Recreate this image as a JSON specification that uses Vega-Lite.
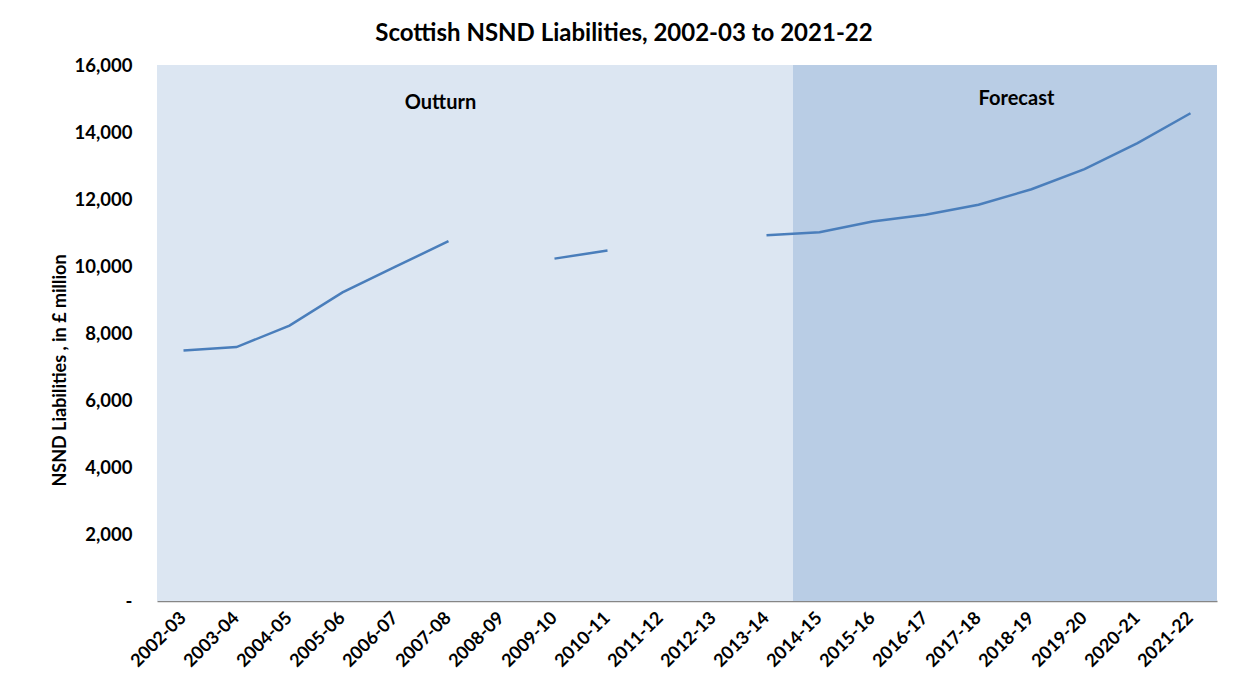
{
  "$schema": "https://vega.github.io/schema/vega-lite/v6.json",
  "autosize": {"type": "none"},
  "width": 1060,
  "height": 536,
  "padding": {"left": 157, "top": 65, "right": 38, "bottom": 76},
  "background": "white",
  "config": {
    "view": {"stroke": null},
    "font": "Lato"
  },
  "title": {
    "text": "Scottish NSND Liabilities, 2002-03 to 2021-22",
    "font": "Lato",
    "fontSize": 24,
    "fontWeight": "bold",
    "color": "#000000",
    "anchor": "middle",
    "dx": -63,
    "offset": 10
  },
  "datasets": {
    "series": [
      {"year": "2002-03", "liabilities": 7480, "phase": "Outturn"},
      {"year": "2003-04", "liabilities": 7580, "phase": "Outturn"},
      {"year": "2004-05", "liabilities": 8220, "phase": "Outturn"},
      {"year": "2005-06", "liabilities": 9210, "phase": "Outturn"},
      {"year": "2006-07", "liabilities": 9980, "phase": "Outturn"},
      {"year": "2007-08", "liabilities": 10740, "phase": "Outturn"},
      {"year": "2008-09", "liabilities": null, "phase": "Outturn"},
      {"year": "2009-10", "liabilities": 10220, "phase": "Outturn"},
      {"year": "2010-11", "liabilities": 10460, "phase": "Outturn"},
      {"year": "2011-12", "liabilities": null, "phase": "Outturn"},
      {"year": "2012-13", "liabilities": null, "phase": "Outturn"},
      {"year": "2013-14", "liabilities": 10920, "phase": "Outturn"},
      {"year": "2014-15", "liabilities": 11010, "phase": "Forecast"},
      {"year": "2015-16", "liabilities": 11330, "phase": "Forecast"},
      {"year": "2016-17", "liabilities": 11530, "phase": "Forecast"},
      {"year": "2017-18", "liabilities": 11830, "phase": "Forecast"},
      {"year": "2018-19", "liabilities": 12290, "phase": "Forecast"},
      {"year": "2019-20", "liabilities": 12890, "phase": "Forecast"},
      {"year": "2020-21", "liabilities": 13670, "phase": "Forecast"},
      {"year": "2021-22", "liabilities": 14560, "phase": "Forecast"}
    ],
    "labels": [
      {"year": "2007-08", "value": 14880, "label": "Outturn"},
      {"year": "2018-19", "value": 15000, "label": "Forecast"}
    ]
  },
  "data": {"name": "series"},
  "encoding": {
    "x": {
      "field": "year",
      "type": "ordinal",
      "sort": null,
      "scale": {"paddingInner": 0, "paddingOuter": 0, "round": false},
      "axis": {
        "title": null,
        "labelAngle": -45,
        "labelAlign": "right",
        "labelBaseline": "middle",
        "labelFont": "Lato",
        "labelFontSize": 18,
        "labelFontWeight": "bold",
        "labelColor": "#000000",
        "labelPadding": 14,
        "ticks": false,
        "domainColor": "#868686",
        "domainWidth": 1.5,
        "grid": false
      }
    }
  },
  "layer": [
    {
      "mark": {"type": "bar", "stroke": null, "width": {"band": 1}},
      "encoding": {
        "y": {
          "datum": 16000,
          "type": "quantitative",
          "scale": {"domain": [0, 16000], "nice": false},
          "axis": {
            "title": "NSND Liabilities , in £ million",
            "titleFont": "Lato",
            "titleFontSize": 18,
            "titleFontWeight": "bold",
            "titleColor": "#000000",
            "titleX": -97,
            "titleY": 305,
            "titleAlign": "center",
            "titleBaseline": "middle",
            "titleAngle": -90,
            "values": [0, 2000, 4000, 6000, 8000, 10000, 12000, 14000, 16000],
            "labelExpr": "datum.value == 0 ? '-' : format(datum.value, ',')",
            "labelFont": "Lato",
            "labelFontSize": 18.5,
            "labelFontWeight": "bold",
            "labelColor": "#000000",
            "labelPadding": 25,
            "ticks": false,
            "tickSize": 0,
            "domain": false,
            "grid": false
          }
        },
        "color": {
          "field": "phase",
          "type": "nominal",
          "scale": {"domain": ["Outturn", "Forecast"], "range": ["#DCE6F2", "#B9CDE5"]},
          "legend": null
        }
      }
    },
    {
      "mark": {"type": "line", "color": "#4A7EBB", "strokeWidth": 2.5, "invalid": "break-paths-filter-domains"},
      "encoding": {
        "y": {"field": "liabilities", "type": "quantitative"}
      }
    },
    {
      "data": {"name": "labels"},
      "transform": [{"filter": "datum.label == 'Outturn'"}],
      "mark": {"type": "text", "font": "Lato", "fontSize": 20, "fontWeight": "bold", "color": "#000000", "align": "center", "baseline": "middle", "dx": -8},
      "encoding": {
        "y": {"field": "value", "type": "quantitative"},
        "text": {"field": "label"}
      }
    },
    {
      "data": {"name": "labels"},
      "transform": [{"filter": "datum.label == 'Forecast'"}],
      "mark": {"type": "text", "font": "Lato", "fontSize": 20, "fontWeight": "bold", "color": "#000000", "align": "center", "baseline": "middle", "dx": -15},
      "encoding": {
        "y": {"field": "value", "type": "quantitative"},
        "text": {"field": "label"}
      }
    }
  ]
}
